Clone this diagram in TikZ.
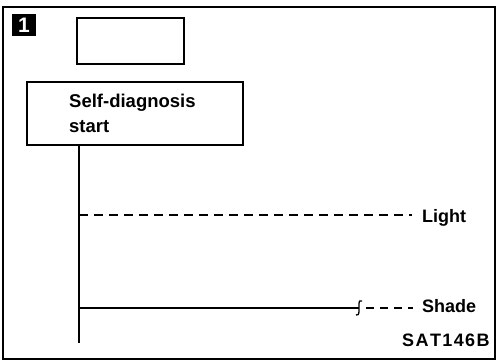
\documentclass[tikz,border=0pt]{standalone}
\usepackage{fontspec}
\setmainfont{Liberation Sans}
\begin{document}
\begin{tikzpicture}[x=1pt,y=-1pt,
  frame/.style={draw=black,line width=1.5pt},
  lbl/.style={font=\bfseries\fontsize{18}{20}\selectfont,inner sep=0pt,anchor=base west},
  ln/.style={line width=1.5pt},
  dsh/.style={line width=1.5pt,dash pattern=on 9pt off 6pt}]
\useasboundingbox (0,0) rectangle (497,360);
\fill[white] (0,0) rectangle (497,360);
\draw[frame] (3,7) rectangle (495,359);
% badge
\node[fill=black,minimum width=24pt,minimum height=22pt,inner sep=0pt,text=white,font=\bfseries\fontsize{21}{22}\selectfont] (badge) at (24,25) {1};
% empty box
\node[frame,minimum width=107pt,minimum height=46pt,inner sep=0pt] (empty) at (130.5,41) {};
% self-diagnosis box
\node[frame,minimum width=216pt,minimum height=63pt,inner sep=0pt] (sd) at (135,113.5) {};
\node[lbl,font=\bfseries\fontsize{18.5}{20}\selectfont] (sdt1) at (69,107) {Self-diagnosis};
\node[lbl,font=\bfseries\fontsize{18.5}{20}\selectfont] (sdt2) at (69,132) {start};
\coordinate (top) at (79,145);
\coordinate (bot) at (79,343);
\draw[ln] (top) -- (bot);
% light
\coordinate (l0) at (79,215);
\coordinate (l1) at (412,215);
\node[lbl] (light) at (422,222) {Light};
\draw[dsh] (l0) -- (l1);
% shade
\coordinate (s0) at (79,308);
\coordinate (s1) at (359,308);
\coordinate (s2) at (366,308);
\coordinate (s3) at (413,308);
\node[lbl] (shade) at (422,312) {Shade};
\draw[ln] (s0) -- (s1);
\draw[line width=1.3pt] (356,315) .. controls (358,316) and (359,314) .. (359,311) -- (359,304) .. controls (359,301) and (360,300) .. (362,301);
\draw[line width=1.5pt,dash pattern=on 8pt off 6pt] (s2) -- (s3);
\node[lbl] (sat) at (402,346) {S\kern1.4pt A\kern1.4pt T\kern1.4pt 1\kern1.4pt 4\kern1.4pt 6\kern1.4pt B};
\end{tikzpicture}
\end{document}
